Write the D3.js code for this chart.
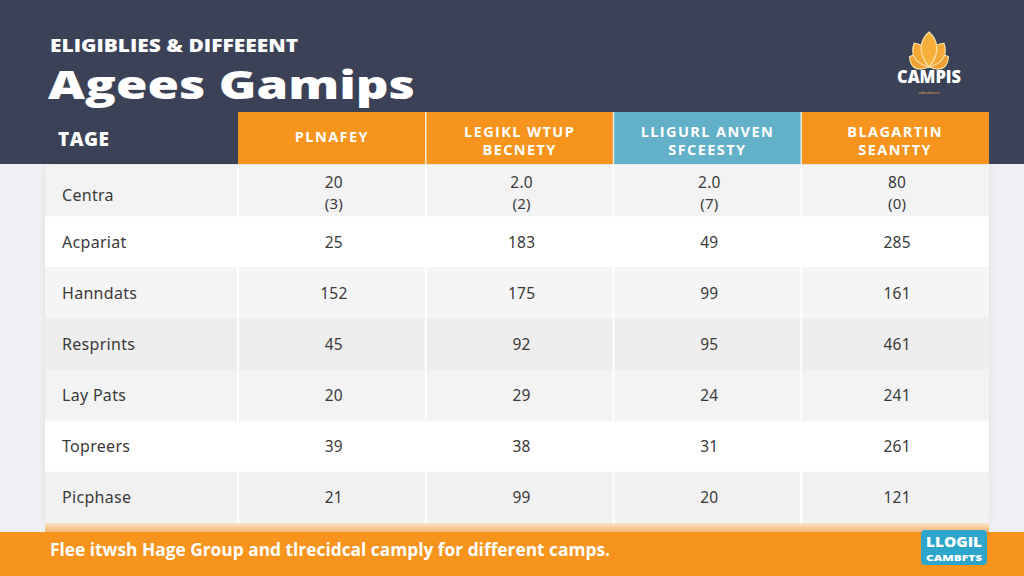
<!DOCTYPE html>
<html><head><meta charset="utf-8">
<script src="https://cdn.jsdelivr.net/npm/d3@7"></script>
<style>html,body{margin:0;padding:0;background:#eef0f3;}svg{display:block;}</style>
</head><body>
<svg id="c" width="1024" height="576"></svg>
<script>
// ---- data ----
const kicker = "ELIGIBLIES & DIFFEEENT";
const title = "Agees Gamips";
const rowHeader = "TAGE";
const columns = [["PLNAFEY"], ["LEGIKL WTUP", "BECNETY"], ["LLIGURL ANVEN", "SFCEESTY"], ["BLAGARTIN", "SEANTTY"]];
const rowLabels = ["Centra", "Acpariat", "Hanndats", "Resprints", "Lay Pats", "Topreers", "Picphase"];
const series1 = ["20", "25", "152", "45", "20", "39", "21"];
const series2 = ["2.0", "183", "175", "92", "29", "38", "99"];
const series3 = ["2.0", "49", "99", "95", "24", "31", "20"];
const series4 = ["80", "285", "161", "461", "241", "261", "121"];
const firstRowNotes = ["(3)", "(2)", "(7)", "(0)"];
const footnote = "Flee itwsh Hage Group and tlrecidcal camply for different camps.";
const logoTop = "CAMPIS";
const logoBottom = ["LLOGIL", "CAMBFTS"];

// ---- styles ----
const navy = "#3b4258", orange = "#f7941d", teal = "#62b1c8";
const headerFills = [orange, orange, teal, orange];
const rowFills = ["#f3f3f3", "#ffffff", "#f5f5f5", "#eeeeee", "#f3f3f3", "#ffffff", "#f1f1f1"];
const font = "'Open Sans', 'DejaVu Sans', sans-serif";
const bodyFont = "'Noto Sans', 'Open Sans', sans-serif";

const svg = d3.select("#c");
const defs = svg.append("defs");
const g1 = defs.append("linearGradient").attr("id","strip").attr("x1",0).attr("y1",0).attr("x2",0).attr("y2",1);
g1.append("stop").attr("offset","0%").attr("stop-color","#fbe3c8");
g1.append("stop").attr("offset","100%").attr("stop-color","#f5b06a");
const sh = defs.append("filter").attr("id","sh").attr("x","-5%").attr("y","-5%").attr("width","110%").attr("height","110%");
sh.append("feDropShadow").attr("dx",0).attr("dy",0).attr("stdDeviation",3).attr("flood-color","#000").attr("flood-opacity",0.08);

// backgrounds
svg.append("rect").attr("width",1024).attr("height",576).attr("fill","#eef0f3");
svg.append("rect").attr("width",1024).attr("height",164).attr("fill",navy);

// scales
const colKeys = d3.range(columns.length);
const x = d3.scaleBand().domain(colKeys).range([238, 989]);
const y = d3.scaleBand().domain(d3.range(rowLabels.length)).range([165, 523]);
const tableLeft = 45, tableRight = 989;
const allSeries = [series1, series2, series3, series4];

// table body
const body = svg.append("g").attr("filter","url(#sh)");
body.selectAll("rect.row").data(rowLabels).join("rect")
  .attr("x", tableLeft).attr("y", (d,i)=>y(i)).attr("width", tableRight-tableLeft).attr("height", y.bandwidth())
  .attr("fill", (d,i)=>rowFills[i]);

// vertical separators in body
svg.selectAll("line.vs").data(colKeys).join("line")
  .attr("x1", d=>x(d)).attr("x2", d=>x(d)).attr("y1",165).attr("y2",523)
  .attr("stroke","#ffffff").attr("stroke-width",2);

// bottom strip
svg.append("rect").attr("x",tableLeft).attr("y",523).attr("width",tableRight-tableLeft).attr("height",10).attr("fill","url(#strip)");

// header
svg.selectAll("rect.hd").data(colKeys).join("rect")
  .attr("x", d=>x(d)).attr("y",112).attr("width", x.bandwidth()).attr("height",52)
  .attr("fill", d=>headerFills[d]);
svg.selectAll("line.hs").data(colKeys.slice(1)).join("line")
  .attr("x1", d=>x(d)).attr("x2", d=>x(d)).attr("y1",112).attr("y2",164)
  .attr("stroke","#ffffff").attr("stroke-opacity",0.8).attr("stroke-width",1.5);
colKeys.forEach(k=>{
  const lines = columns[k];
  const cx = x(k) + x.bandwidth()/2;
  const base = lines.length === 1 ? 142 : 137;
  lines.forEach((t,j)=>{
    svg.append("text").attr("x",cx).attr("y",base + j*18).attr("text-anchor","middle")
      .attr("font-family",font).attr("font-weight",700).attr("font-size",14.5).attr("letter-spacing",1.4)
      .attr("fill","#fff").text(t);
  });
});
svg.append("text").attr("x",58).attr("y",146).attr("font-family",font).attr("font-weight",800)
  .attr("font-size",19).attr("letter-spacing",0.5).attr("fill","#fff").text(rowHeader);

// row labels
svg.selectAll("text.rl").data(rowLabels).join("text")
  .attr("x",62).attr("y",(d,i)=>y(i)+y.bandwidth()/2 + 6 + (i===0?4:0))
  .attr("font-family",bodyFont).attr("font-size",16).attr("letter-spacing",0.3).attr("fill","#3a3a3a").text(d=>d);

// values
allSeries.forEach((s,k)=>{
  const cx = x(k) + x.bandwidth()/2 + 2;
  svg.selectAll("text.v"+k).data(s).join("text")
    .attr("x",cx).attr("text-anchor","middle")
    .attr("y",(d,i)=> i===0 ? 188 : y(i)+y.bandwidth()/2 + 6)
    .attr("font-family",bodyFont).attr("font-size",15.5).attr("letter-spacing",0.3).attr("fill","#3a3a3a").text(d=>d);
  svg.append("text").attr("x",cx).attr("y",209).attr("text-anchor","middle")
    .attr("font-family",bodyFont).attr("font-size",15).attr("letter-spacing",0.3).attr("fill","#3a3a3a").text(firstRowNotes[k]);
});

// titles
svg.append("text").attr("x",50).attr("y",52).attr("font-family",font).attr("font-weight",800)
  .attr("font-size",17).attr("fill","#fff").attr("textLength",248).attr("lengthAdjust","spacingAndGlyphs").text(kicker);
svg.append("text").attr("x",48).attr("y",99).attr("font-family",font).attr("font-weight",800)
  .attr("font-size",39).attr("fill","#fff").attr("textLength",367).attr("lengthAdjust","spacingAndGlyphs").text(title);

// footer
svg.append("rect").attr("x",0).attr("y",532).attr("width",1024).attr("height",44).attr("fill",orange);
svg.append("text").attr("x",50).attr("y",556).attr("font-family",font).attr("font-weight",700)
  .attr("font-size",17).attr("fill","#fff").attr("textLength",560).attr("lengthAdjust","spacingAndGlyphs").text(footnote);

// bottom-right logo
svg.append("rect").attr("x",921).attr("y",530).attr("width",66).attr("height",35).attr("rx",4).attr("fill","#2ea6cb");
svg.append("text").attr("x",954).attr("y",547).attr("text-anchor","middle").attr("font-family",font)
  .attr("font-weight",800).attr("font-size",14).attr("fill","#fff").attr("textLength",56).attr("lengthAdjust","spacingAndGlyphs").text(logoBottom[0]);
svg.append("text").attr("x",954).attr("y",561).attr("text-anchor","middle").attr("font-family",font)
  .attr("font-weight",800).attr("font-size",9).attr("fill","#fff").attr("textLength",56).attr("lengthAdjust","spacingAndGlyphs").text(logoBottom[1]);

// top-right logo
const lg = svg.append("g").attr("transform","translate(929,67)");
const petal = (h,w)=>`M0,0 C${-w},${-h*0.45} ${-w*0.6},${-h*0.8} 0,${-h} C${w*0.6},${-h*0.8} ${w},${-h*0.45} 0,0 Z`;
[[-62,22,12,"#f0a030"],[62,22,12,"#f0a030"],[-32,28,12,"#f5a833"],[32,28,12,"#f5a833"],[0,35,13,"#f7b03a"]].forEach(p=>{
  lg.append("path").attr("d",petal(p[1],p[2])).attr("transform",`rotate(${p[0]})`)
    .attr("fill",p[3]).attr("stroke","#fde3a8").attr("stroke-width",1.2);
});
svg.append("text").attr("x",929).attr("y",83).attr("text-anchor","middle").attr("font-family",font)
  .attr("font-weight",800).attr("font-size",17).attr("fill","#fff").attr("textLength",64).attr("lengthAdjust","spacingAndGlyphs").text(logoTop);
svg.append("text").attr("x",929).attr("y",94).attr("text-anchor","middle").attr("font-family",font)
  .attr("font-size",4).attr("fill","#f5a833").text("adventures");
</script>
</body></html>
